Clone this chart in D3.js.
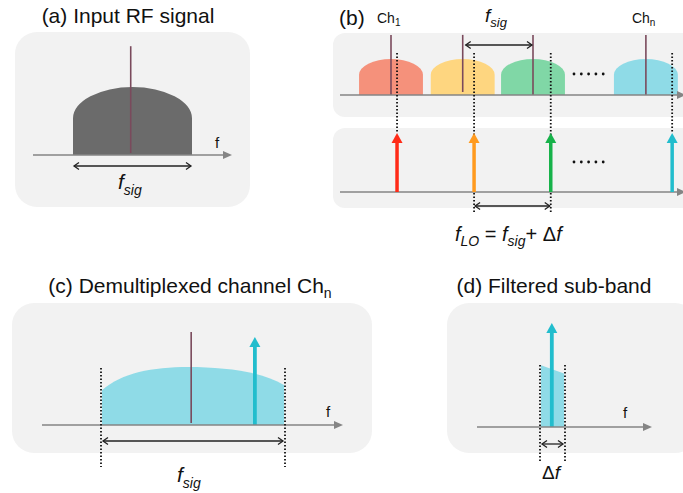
<!DOCTYPE html>
<html>
<head>
<meta charset="utf-8">
<script src="https://cdn.jsdelivr.net/npm/d3@7"></script>
<style>
  html, body { margin: 0; padding: 0; background: #ffffff; }
  svg { display: block; font-family: "Liberation Sans", Arial, sans-serif; }
</style>
</head>
<body>
<svg id="fig" width="683" height="493"></svg>
<script>
// ---- spectral content, in relative frequency / amplitude units ----
// (a) input RF band: edges, carrier, dome profile (edge height, peak height)
const inputBand = [-1, 1];
const inputCarrier = -0.03;
const inputDome = { edge: 0.54, peak: 1.0 };

// (b) WDM channel grid
const channelLabels = ["Ch1", "Ch2", "Ch3", "Chn"];
const channelCarrier = [1.0, 2.01, 3.0, 4.59];
const channelHalfWidth = 0.45;
const loTones = [1.085, 2.17, 3.25, 4.96];
const bandColors = ["#f5917b", "#fed680", "#80d7a6", "#8fdbe7"];
const toneColors = ["#ff2b17", "#ff9a1e", "#17b24a", "#22bdcd"];

// (c) demultiplexed channel: band edges, carrier, LO tone
const demuxBand = [-1, 1];
const demuxCarrier = -0.02;
const demuxTone = 0.68;
const demuxDome = { left: 0.6, right: 0.69, peak: 1.0 };

// (d) filtered sub-band: slice edges, tone, slice heights
const subBand = [0, 1];
const subTone = 0.47;
const subHeights = [0.98, 0.85];

const svg = d3.select("#fig");
const gray = "#858585";
const carrierColor = "#7a4a5c";

// ---------- helpers ----------
function panelBox(x, y, w, h, r) {
  svg.append("rect").attr("x", x).attr("y", y).attr("width", w).attr("height", h)
    .attr("rx", r).attr("ry", r).attr("fill", "#f2f2f2");
}
function freqAxis(x0, x1, y) {
  svg.append("line").attr("x1", x0).attr("x2", x1 - 6).attr("y1", y).attr("y2", y)
    .attr("stroke", gray).attr("stroke-width", 1.6);
  svg.append("path").attr("d", `M${x1},${y} L${x1 - 9},${y - 4} L${x1 - 9},${y + 4} Z`).attr("fill", gray);
}
function dotted(x, y0, y1) {
  svg.append("line").attr("x1", x).attr("x2", x).attr("y1", y0).attr("y2", y1)
    .attr("stroke", "#111").attr("stroke-width", 1.8).attr("stroke-dasharray", "1.6,1.9");
}
function spanArrow(x0, x1, y) {
  svg.append("line").attr("x1", x0 + 1).attr("x2", x1 - 1).attr("y1", y).attr("y2", y)
    .attr("stroke", "#222").attr("stroke-width", 1.3);
  svg.append("path").attr("d", `M${x0 + 6},${y - 3.5} L${x0 + 1},${y} L${x0 + 6},${y + 3.5}`)
    .attr("fill", "none").attr("stroke", "#222").attr("stroke-width", 1.3);
  svg.append("path").attr("d", `M${x1 - 6},${y - 3.5} L${x1 - 1},${y} L${x1 - 6},${y + 3.5}`)
    .attr("fill", "none").attr("stroke", "#222").attr("stroke-width", 1.3);
}
function tone(x, yBase, yTip, color, w) {
  svg.append("line").attr("x1", x).attr("x2", x).attr("y1", yBase).attr("y2", yTip + 9)
    .attr("stroke", color).attr("stroke-width", w);
  svg.append("path").attr("d", `M${x},${yTip} L${x - 5.5},${yTip + 10} L${x + 5.5},${yTip + 10} Z`).attr("fill", color);
}
function carrier(x, y0, y1) {
  svg.append("line").attr("x1", x).attr("x2", x).attr("y1", y0).attr("y2", y1)
    .attr("stroke", carrierColor).attr("stroke-width", 1.6);
}
// dome: vertical sides, half-ellipse top
function domePath(xl, xr, yBase, yShoulder, yPeak) {
  const rx = (xr - xl) / 2, ry = yShoulder - yPeak;
  return `M${xl},${yBase} L${xl},${yShoulder} A${rx},${ry} 0 0 1 ${xr},${yShoulder} L${xr},${yBase} Z`;
}
function fsig(x, y, big, small) {
  const t = svg.append("text").attr("x", x).attr("y", y).attr("fill", "#111");
  t.append("tspan").attr("font-style", "italic").attr("font-size", big).text("f");
  t.append("tspan").attr("font-style", "italic").attr("font-size", small).attr("dy", big * 0.28).text("sig");
  return t;
}
function title(x, y, main, sub) {
  const t = svg.append("text").attr("x", x).attr("y", y).attr("text-anchor", "middle")
    .attr("font-size", 21).attr("fill", "#111").text(main);
  if (sub) t.append("tspan").attr("font-size", 14).attr("dy", 5).text(sub);
}

// ================= (a) Input RF signal =================
title(128, 23, "(a) Input RF signal");
panelBox(15, 32, 235, 175, 22);
{
  const x = d3.scaleLinear().domain(inputBand).range([73, 192]);
  const y = d3.scaleLinear().domain([0, 1]).range([155, 87]);
  svg.append("path")
    .attr("d", domePath(x(inputBand[0]), x(inputBand[1]), y(0), y(inputDome.edge), y(inputDome.peak)))
    .attr("fill", "#6b6b6b");
  carrier(x(inputCarrier), y(0) - 2, y(1.6));
  freqAxis(33, 232, y(0));
  svg.append("text").attr("x", 215).attr("y", 148).attr("font-size", 15).attr("fill", "#111").text("f");
  spanArrow(x(inputBand[0]), x(inputBand[1]), 166);
  fsig(118, 189, 21, 14);
}

// ================= (b) channel grid + LO comb =================
{
  const x = d3.scaleLinear().domain([0, 5.5]).range([320, 710.5]);
  const yT = d3.scaleLinear().domain([0, 1]).range([95, 59]);
  const yB = d3.scaleLinear().domain([0, 1]).range([192, 133]);

  svg.append("text").attr("x", 339).attr("y", 25).attr("font-size", 21).attr("fill", "#111").text("(b)");
  [0, 3].forEach(i => {
    const t = svg.append("text").attr("x", x(channelCarrier[i]) - 14).attr("y", 23)
      .attr("font-size", 14).attr("fill", "#111").text("Ch");
    t.append("tspan").attr("font-size", 10).attr("dy", 3).text(channelLabels[i].slice(2));
  });
  fsig(485, 22, 19, 13);

  panelBox(333, 33, 380, 84, 12);
  panelBox(333, 128, 380, 80, 12);

  channelCarrier.forEach((c, i) => {
    svg.append("path")
      .attr("d", domePath(x(c - channelHalfWidth), x(c + channelHalfWidth), yT(0), yT(0.56), yT(1)))
      .attr("fill", bandColors[i]);
  });
  channelCarrier.forEach((c, i) => {
    carrier(x(c), i === 1 ? yT(0) - 3 : yT(0), yT(1.67));
  });
  freqAxis(340, 686, yT(0));
  freqAxis(340, 686, yB(0));

  // dotted guides from each LO tone up to the channel row
  loTones.forEach((f, i) => {
    const bottom = (i === 1 || i === 2) ? 213 : yB(1);
    dotted(x(f), 53, bottom);
  });
  loTones.forEach((f, i) => tone(x(f), yB(0), yB(1), toneColors[i], 3.5));

  // ellipsis dots
  [74, 162].forEach(yy => {
    svg.selectAll(null).data(d3.range(5)).join("circle")
      .attr("cx", d => 574 + d * 7.3).attr("cy", yy).attr("r", 1.4).attr("fill", "#111");
  });

  spanArrow(x(channelCarrier[1]) + 2, x(channelCarrier[2]), 45);
  spanArrow(x(loTones[1]), x(loTones[2]), 206);

  const t = svg.append("text").attr("x", 455).attr("y", 241).attr("font-size", 20).attr("fill", "#111");
  t.append("tspan").attr("font-style", "italic").text("f");
  t.append("tspan").attr("font-style", "italic").attr("font-size", 14).attr("dy", 5).text("LO");
  t.append("tspan").attr("dy", -5).text(" = ");
  t.append("tspan").attr("font-style", "italic").text("f");
  t.append("tspan").attr("font-style", "italic").attr("font-size", 14).attr("dy", 5).text("sig");
  t.append("tspan").attr("dy", -5).text("+ Δ");
  t.append("tspan").attr("font-style", "italic").text("f");
}

// ================= (c) Demultiplexed channel =================
title(190, 293, "(c) Demultiplexed channel Ch", "n");
panelBox(12, 303, 360, 150, 22);
{
  const x = d3.scaleLinear().domain(demuxBand).range([102, 284]);
  const y = d3.scaleLinear().domain([0, 1]).range([425, 367]);
  const xl = x(demuxBand[0]), xr = x(demuxBand[1]);
  svg.append("path")
    .attr("d", `M${xl},${y(0)} L${xl},${y(demuxDome.left)} ` +
      `C${xl + 20},${y(0.9)} ${x(-0.45)},${y(1.0)} ${x(-0.05)},${y(1.0)} ` +
      `C${x(0.35)},${y(1.0)} ${x(0.75)},${y(0.92)} ${xr},${y(demuxDome.right)} L${xr},${y(0)} Z`)
    .attr("fill", "#8fdbe7");
  carrier(x(demuxCarrier), y(0) - 2, 332);
  tone(x(demuxTone), y(0), 337, toneColors[3], 3.8);
  freqAxis(42, 343, y(0));
  svg.append("text").attr("x", 326).attr("y", 417).attr("font-size", 15).attr("fill", "#111").text("f");
  dotted(xl - 1, 368, 467);
  dotted(xr + 1, 368, 467);
  spanArrow(xl, xr, 441);
  fsig(177, 482, 21, 14);
}

// ================= (d) Filtered sub-band =================
title(554, 293, "(d) Filtered sub-band");
panelBox(447, 303, 250, 150, 22);
{
  const x = d3.scaleLinear().domain(subBand).range([541, 564]);
  const y = d3.scaleLinear().domain([0, 1]).range([427, 364]);
  svg.append("path")
    .attr("d", `M${x(0)},${y(0)} L${x(0)},${y(subHeights[0])} L${x(1)},${y(subHeights[1])} L${x(1)},${y(0)} Z`)
    .attr("fill", "#8fdbe7");
  tone(x(subTone), y(0), 323, toneColors[3], 3.8);
  freqAxis(477, 652, y(0));
  svg.append("text").attr("x", 623).attr("y", 418).attr("font-size", 15).attr("fill", "#111").text("f");
  dotted(x(0) - 1, 365, 463);
  dotted(x(1) + 1, 365, 463);
  spanArrow(x(0), x(1), 444);
  const t = svg.append("text").attr("x", 542).attr("y", 479).attr("font-size", 19).attr("fill", "#111");
  t.append("tspan").text("Δ");
  t.append("tspan").attr("font-style", "italic").text("f");
}
</script>
</body>
</html>
